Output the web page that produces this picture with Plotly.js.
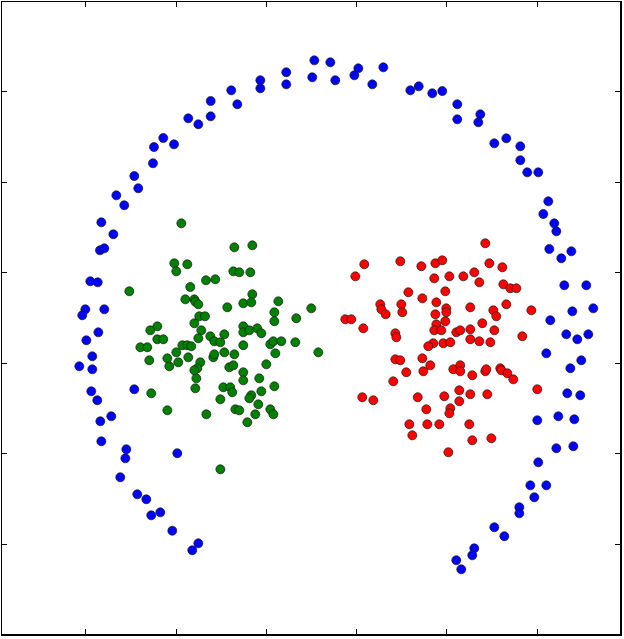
<!DOCTYPE html>
<html>
<head>
<meta charset="utf-8">
<script src="https://cdn.plot.ly/plotly-3.0.1.min.js"></script>
<style>html,body{margin:0;padding:0;background:#fff;}#chart{width:624px;height:639px;}</style>
</head>
<body>
<div id="chart"></div>
<script>
// Outer ring (blue)
const blueX = [-0.864,-0.753,-1.141,-1.022,-1.244,-1.255,-1.462,-1.418,-1.661,-1.573,
  -0.616,-0.616,-0.388,-0.321,-0.066,-0.066,0.221,0.221,0.532,0.509,
  0.709,0.764,1.019,0.975,1.296,1.174,1.595,1.688,1.838,1.949,
  2.115,2.115,2.370,2.348,2.525,2.658,2.813,2.813,2.890,3.012,
  3.123,3.068,3.189,3.212,3.134,3.378,3.267,3.300,3.544,3.389,
  3.621,3.145,3.322,3.444,3.566,3.101,3.488,3.367,3.333,3.477,
  3.001,3.234,3.411,3.400,3.212,3.012,2.924,3.101,2.968,2.802,
  2.802,2.525,2.636,2.303,2.281,2.104,2.159,
  -1.827,-1.694,-1.842,-1.794,-1.949,-1.867,-2.004,-2.038,-1.794,-1.860,
  -1.993,-1.927,-2.071,-1.927,-1.462,-1.938,-1.872,-1.717,-1.838,-1.827,
  -1.550,-1.561,-0.986,-1.617,-1.429,-1.329,-1.274,-1.174,-1.041,-0.753,-0.820];
const blueY = [2.704,2.638,2.487,2.417,2.387,2.208,2.067,1.932,1.854,1.744,
  2.895,2.726,3.013,2.859,3.124,3.035,3.212,3.079,3.344,3.157,
  3.322,3.124,3.256,3.179,3.267,3.079,3.013,3.057,2.980,3.005,
  2.859,2.693,2.748,2.660,2.428,2.483,2.395,2.241,2.108,2.108,
  1.788,1.648,1.545,1.457,1.262,1.236,1.159,0.861,0.861,0.574,
  0.607,0.475,0.320,0.265,0.320,0.110,0.033,-0.055,-0.331,-0.353,
  -0.629,-0.585,-0.618,-0.916,-0.938,-1.093,-1.347,-1.347,-1.479,-1.589,
  -1.656,-1.810,-1.909,-2.042,-2.119,-2.174,-2.274,
  1.556,1.424,1.247,1.269,0.905,0.894,0.596,0.530,0.596,0.342,
  0.254,0.077,-0.033,-0.066,-0.287,-0.309,-0.408,-0.585,-0.640,-0.861,
  -0.949,-1.049,-0.993,-1.258,-1.446,-1.501,-1.678,-1.645,-1.848,-1.987,-2.064];

// Left cluster (green)
const greenX = [-0.941,-1.019,-0.875,-0.997,-0.668,-1.517,-0.842,-0.897,-0.797,-0.786,
  -0.753,-0.742,-0.679,-0.797,-1.207,-1.285,-0.720,-0.753,-1.207,-1.141,
  -0.930,-0.875,-0.831,-1.395,-1.318,-0.997,-0.864,-1.096,-1.296,-0.731,
  -0.975,-1.074,-0.764,-0.797,-0.775,-0.786,-1.274,-1.096,-0.664,
  -0.354,-0.155,-0.365,-0.299,-0.177,-0.565,-0.155,-0.255,-0.166,0.133,
  -0.432,0.089,0.498,0.089,0.332,-0.255,-0.255,-0.188,-0.100,-0.055,
  -0.465,-0.620,-0.576,-0.509,-0.255,0.044,0.078,0.166,0.321,0.576,
  0.100,-0.465,-0.354,-0.587,-0.576,0.000,-0.410,-0.365,-0.255,-0.255,
  -0.078,-0.476,-0.399,-0.377,0.089,-0.055,-0.166,-0.188,-0.509,-0.089,
  -0.343,-0.299,0.044,0.078,-0.122,-0.210,-0.509];
const greenY = [1.545,1.104,1.093,1.015,0.916,0.795,0.842,0.706,0.706,0.680,
  0.651,0.519,0.519,0.442,0.408,0.364,0.364,0.276,0.265,0.265,
  0.199,0.199,0.188,0.177,0.177,0.121,0.066,0.055,0.033,0.011,
  0.011,-0.033,-0.055,-0.077,-0.166,-0.276,-0.331,-0.519,-0.563,
  1.280,1.302,1.015,1.004,1.004,0.927,0.762,0.662,0.673,0.684,
  0.618,0.563,0.607,0.464,0.497,0.408,0.342,0.364,0.386,0.331,
  0.320,0.298,0.243,0.232,0.199,0.210,0.243,0.243,0.232,0.121,
  0.110,0.121,0.099,0.066,0.099,-0.011,-0.044,-0.022,-0.099,-0.188,
  -0.166,-0.265,-0.265,-0.320,-0.254,-0.309,-0.353,-0.386,-0.397,-0.453,
  -0.508,-0.519,-0.508,-0.563,-0.563,-0.651,-1.170];

// Right cluster (red)
const redX = [1.085,1.484,0.986,1.573,1.262,1.274,1.322,1.495,1.506,0.875,
  0.941,1.074,1.429,1.440,1.429,1.484,1.550,1.406,1.063,1.185,
  1.584,1.617,2.425,1.717,1.872,1.949,2.470,2.614,1.860,2.027,
  2.182,2.303,2.359,2.625,2.702,2.769,1.982,1.728,1.883,2.259,
  2.658,2.935,1.993,1.993,1.872,2.514,2.547,1.982,1.883,2.392,
  1.860,1.938,2.104,2.148,2.259,2.525,2.835,2.259,2.359,2.481,
  1.849,1.794,1.960,2.038,1.728,1.816,1.739,2.071,2.148,2.148,
  2.281,2.425,2.436,2.591,2.602,2.669,2.735,3.001,1.677,1.971,
  2.137,2.259,2.447,2.137,2.038,2.027,1.772,1.783,1.916,2.248,
  2.281,2.492,2.016];
const redY = [1.093,1.126,0.960,0.784,0.651,0.596,0.541,0.651,0.563,0.486,
  0.486,0.386,0.331,0.287,0.044,0.033,-0.099,-0.199,-0.375,-0.408,
  -0.673,-0.795,1.325,1.071,1.104,1.137,1.104,1.060,0.938,0.960,
  0.960,1.004,0.894,0.872,0.828,0.828,0.795,0.717,0.673,0.618,
  0.651,0.585,0.607,0.563,0.541,0.585,0.519,0.464,0.430,0.442,
  0.364,0.364,0.342,0.364,0.375,0.364,0.298,0.265,0.243,0.232,
  0.221,0.188,0.221,0.232,0.055,-0.022,-0.088,-0.066,-0.022,-0.088,
  -0.132,-0.088,-0.066,-0.055,-0.077,-0.110,-0.177,-0.287,-0.375,-0.364,
  -0.298,-0.342,-0.342,-0.419,-0.497,-0.552,-0.508,-0.673,-0.673,-0.673,
  -0.850,-0.828,-0.982];

const xTicks = [-2, -1, 0, 1, 2, 3];
const yTicks = [-2, -1, 0, 1, 2, 3];

const markerLine = {color: '#1a1a1a', width: 0.7};
function series(x, y, color) {
  return {x: x, y: y, type: 'scatter', mode: 'markers', showlegend: false, hoverinfo: 'skip',
    marker: {symbol: 'circle', size: 9, color: color, line: markerLine}};
}
const data = [
  series(blueX, blueY, '#0000ff'),
  series(greenX, greenY, '#008000'),
  series(redX, redY, '#ff0000')
];
const axisBase = {showgrid: false, zeroline: false, showticklabels: false, ticks: 'inside',
  ticklen: 5, tickwidth: 1, tickcolor: '#000', showline: true, linecolor: '#000', linewidth: 1.5,
  mirror: 'ticks', fixedrange: true};
const layout = {
  width: 624, height: 639,
  margin: {l: 2, r: 4, t: 2, b: 5, pad: 0},
  paper_bgcolor: '#ffffff', plot_bgcolor: '#ffffff',
  xaxis: Object.assign({}, axisBase, {range: [-2.927, 3.917], tickvals: xTicks}),
  yaxis: Object.assign({}, axisBase, {range: [-2.988, 3.988], tickvals: yTicks}),
  showlegend: false
};
Plotly.newPlot('chart', data, layout, {displayModeBar: false, staticPlot: true});
</script>
</body>
</html>
